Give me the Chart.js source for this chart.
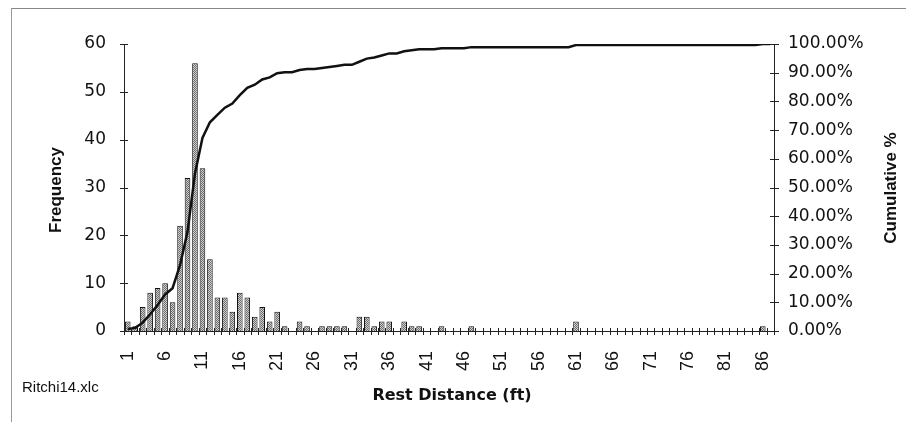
<!DOCTYPE html>
<html><head><meta charset="utf-8">
<script src="https://cdn.jsdelivr.net/npm/chart.js@4"></script>
<style>
html,body{margin:0;padding:0;background:#fff;}
#wrap{position:relative;width:906px;height:422px;overflow:hidden;}
#frame{position:absolute;left:11px;top:8px;width:900px;height:420px;border-left:1px solid #999;border-top:1px solid #888;pointer-events:none;}
canvas{position:absolute;left:0;top:0;}
</style></head><body>
<div id="wrap"><canvas id="c" width="906" height="422"></canvas><div id="frame"></div></div>
<script>
const categories = ['1','2','3','4','5','6','7','8','9','10','11','12','13','14','15','16','17','18','19','20',
  '21','22','23','24','25','26','27','28','29','30','31','32','33','34','35','36','37','38','39','40',
  '41','42','43','44','45','46','47','48','49','50','51','52','53','54','55','56','57','58','59','60',
  '61','62','63','64','65','66','67','68','69','70','71','72','73','74','75','76','77','78','79','80',
  '81','82','83','84','85','86','More'];
const frequency = [2,1,5,8,9,10,6,22,32,56, 34,15,7,7,4,8,7,3,5,2, 4,1,0,2,1,0,1,1,1,1,
  0,3,3,1,2,2,0,2,1,1, 0,0,1,0,0,0,1,0,0,0, 0,0,0,0,0,0,0,0,0,0,
  2,0,0,0,0,0,0,0,0,0, 0,0,0,0,0,0,0,0,0,0, 0,0,0,0,0,1,0];
const freqTicks = [0,10,20,30,40,50,60];
const pctTicks = [0,10,20,30,40,50,60,70,80,90,100];

const total = frequency.reduce((a,b)=>a+b,0);
let run = 0;
const cumulativePct = frequency.map(v => { run += v; return run / total * 100; });

const FONT = '"Liberation Sans", Arial, sans-serif';

// dotted gray fill like the original's bar pattern
const pc = document.createElement('canvas'); pc.width = 2; pc.height = 2;
const pctx = pc.getContext('2d');
pctx.fillStyle = '#d0d0d0'; pctx.fillRect(0,0,2,2);
pctx.fillStyle = '#6a6a6a'; pctx.fillRect(0,0,1,1); pctx.fillRect(1,1,1,1);
const barFill = pctx.createPattern(pc, 'repeat');

const crossTicks = {
  id:'crossTicks',
  afterDatasetsDraw(chart){
    const ctx = chart.ctx, x = chart.scales.x, y = chart.scales.y, y1 = chart.scales.y1;
    ctx.save();
    ctx.strokeStyle = '#222'; ctx.lineWidth = 1;
    ctx.beginPath();
    const n = categories.length;
    for (let i = 0; i <= n; i++) {
      const px = Math.round(x.getPixelForValue(i - 0.5)) + 0.5;
      ctx.moveTo(px, y.bottom - 3); ctx.lineTo(px, y.bottom + 4);
    }
    freqTicks.forEach(v => {
      const py = Math.round(y.getPixelForValue(v)) + 0.5;
      ctx.moveTo(y.right - 4, py); ctx.lineTo(y.right + 4, py);
    });
    pctTicks.forEach(v => {
      const py = Math.round(y1.getPixelForValue(v)) + 0.5;
      ctx.moveTo(y1.left - 4, py); ctx.lineTo(y1.left + 5, py);
    });
    ctx.stroke();
    ctx.restore();
  },
  afterDraw(chart){
    const ctx = chart.ctx;
    ctx.save();
    ctx.fillStyle = '#111';
    ctx.textAlign = 'center'; ctx.textBaseline = 'middle';
    ctx.font = 'bold 17px ' + FONT;
    ctx.save(); ctx.translate(56, 190); ctx.rotate(-Math.PI/2); ctx.fillText('Frequency', 0, 0); ctx.restore();
    ctx.save(); ctx.translate(891, 188); ctx.rotate(-Math.PI/2); ctx.fillText('Cumulative %', 0, 0); ctx.restore();
    ctx.font = 'bold 16px "DejaVu Sans", sans-serif';
    ctx.fillText('Rest Distance (ft)', 452, 396);
    ctx.textAlign = 'left';
    ctx.font = '15px ' + FONT;
    ctx.fillText('Ritchi14.xlc', 22, 388);
    ctx.restore();
  }
};

new Chart(document.getElementById('c'), {
  data: {
    labels: categories,
    datasets: [
      { type:'line', label:'Cumulative %', data: cumulativePct, yAxisID:'y1',
        borderColor:'#111', borderWidth:2.5, pointRadius:0, tension:0, order:0 },
      { type:'bar', label:'Frequency', data: frequency, yAxisID:'y',
        backgroundColor:barFill, borderColor:'#111', borderWidth:1,
        barPercentage:0.75, categoryPercentage:1, order:1 }
    ]
  },
  options: {
    responsive:false, animation:false,
    layout:{ padding:{ top:44, left:0, right:0, bottom:0 } },
    plugins:{ legend:{display:false}, tooltip:{enabled:false} },
    scales:{
      x:{ type:'category', offset:true,
        grid:{ display:false, drawTicks:false },
        border:{ display:true, color:'#222', width:1 },
        ticks:{ autoSkip:false, maxRotation:90, minRotation:90, padding:20, color:'#111',
          font:{ family:FONT, size:18 },
          callback:(v,i)=> i % 5 === 0 ? categories[i] : '' },
        afterFit:(s)=>{ s.height = 91; } },
      y:{ position:'left', min:0, max:60,
        grid:{ display:false, drawTicks:false },
        border:{ display:true, color:'#222', width:1 },
        ticks:{ stepSize:10, padding:18, color:'#111', font:{ family:'"DejaVu Sans", sans-serif', size:17 } },
        afterFit:(s)=>{ s.width = 124; } },
      y1:{ position:'right', min:0, max:100,
        grid:{ display:false, drawTicks:false },
        border:{ display:true, color:'#222', width:1 },
        ticks:{ stepSize:10, padding:14, color:'#111', font:{ family:'"DejaVu Sans", sans-serif', size:17 },
          callback:(v)=> v.toFixed(2) + '%' },
        afterFit:(s)=>{ s.width = 132; } }
    }
  },
  plugins:[crossTicks]
});
</script>
</body></html>
